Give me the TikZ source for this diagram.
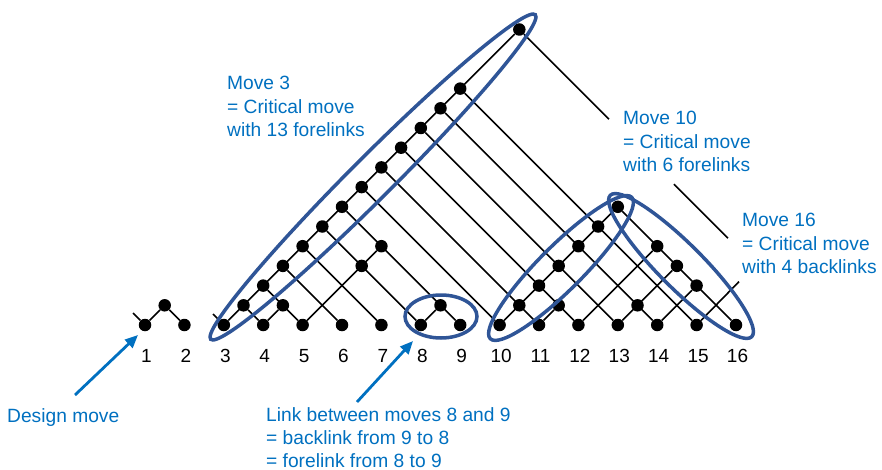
\documentclass[tikz,border=0pt]{standalone}
\usepackage{fontspec}
\setmainfont{Liberation Sans}
\usetikzlibrary{arrows.meta}
\definecolor{ellblue}{HTML}{2F5597}
\definecolor{txtblue}{HTML}{0070C0}
\tikzset{
 dot/.style={circle, fill=black, inner sep=0pt, minimum size=12.5pt},
 lk/.style={line width=1.6pt, black},
 ell/.style={draw=ellblue, line width=3.5pt},
 lbl/.style={text=txtblue, font=\fontsize{19.2}{23.3}\selectfont, align=left, inner sep=0pt, anchor=north west},
 num/.style={font=\fontsize{19}{22}\selectfont, inner sep=0pt},
 arr/.style={draw=txtblue, line width=2.8pt, -{Triangle[length=13pt,width=11pt]}}
}
\begin{document}
\begin{tikzpicture}[x=1pt,y=-1pt]
\useasboundingbox (0,0) rectangle (882,470);
% moves
\foreach \i in {1,...,16} {
  \node[dot] (m\i) at ({145+(\i-1)*39.4},325) {};
  \node[num] (n\i) at ({145+(\i-1)*39.4+1.5},356) {\i};
}
% links
\foreach \a/\b in {1/2,3/4,3/5,3/6,3/7,3/8,3/9,3/10,3/11,3/12,3/13,3/14,3/15,3/18,
  4/5,5/8,5/9,8/9,10/11,10/12,10/13,10/14,10/15,10/16,11/12,13/14,12/16,13/16,14/16} {
  \node[dot] (l\a-\b) at ({145+((\a+\b)/2-1)*39.4},{325-(\b-\a)*19.7}) {};
}
% free ends
\coordinate (b1) at (133,313);
\coordinate (b3) at (213,314);
\coordinate (e15) at (739,281.6);
\coordinate (c1) at (609,119.2);
\coordinate (c2) at (674,184.2);
\coordinate (e18) at (728,238.2);
% forelink lines (up-right)
\draw[lk] (m1) -- (l1-2);
\draw[lk] (m3) -- (l3-18);
\draw[lk] (m4) -- (l4-5);
\draw[lk] (m5) -- (l5-9);
\draw[lk] (m8) -- (l8-9);
\draw[lk] (m10) -- (l10-16);
\draw[lk] (m11) -- (l11-12);
\draw[lk] (m12) -- (l12-16);
\draw[lk] (m13) -- (l13-16);
\draw[lk] (m14) -- (l14-16);
\draw[lk] (m15) -- (e15);
% backlink lines (up-left)
\draw[lk] (m1) -- (b1);
\draw[lk] (m3) -- (b3);
\draw[lk] (m2) -- (l1-2);
\draw[lk] (m4) -- (l3-4);
\draw[lk] (m5) -- (l3-5);
\draw[lk] (m6) -- (l3-6);
\draw[lk] (m7) -- (l3-7);
\draw[lk] (m8) -- (l3-8);
\draw[lk] (m9) -- (l3-9);
\draw[lk] (m10) -- (l3-10);
\draw[lk] (m11) -- (l3-11);
\draw[lk] (m12) -- (l3-12);
\draw[lk] (m13) -- (l3-13);
\draw[lk] (m14) -- (l3-14);
\draw[lk] (m15) -- (l3-15);
\draw[lk] (m16) -- (l10-16);
\draw[lk] (l3-18) -- (c1);
\draw[lk] (c2) -- (e18);
% ellipses
\coordinate (E3) at (373,177);
\coordinate (E10) at (561,268);
\coordinate (E16) at (681,266);
\coordinate (E89) at (441,316.5);
\draw[ell, rotate around={45:(E3)}] (E3) ellipse [x radius=229.5pt, y radius=21pt];
\draw[ell, rotate around={45:(E10)}] (E10) ellipse [x radius=100pt, y radius=22pt];
\draw[ell, rotate around={-45:(E16)}] (E16) ellipse [x radius=100pt, y radius=22pt];
\draw[ell] (E89) ellipse [x radius=36pt, y radius=21.5pt];
% labels
\node[lbl] (t3) at (227,76.3) {Move 3\\= Critical move\\with 13 forelinks};
\node[lbl] (t10) at (623,111.3) {Move 10\\= Critical move\\with 6 forelinks};
\node[lbl] (t16) at (742,213.3) {Move 16\\= Critical move\\with 4 backlinks};
\node[lbl] (td) at (7,408.3) {Design move};
\node[lbl, font=\fontsize{19.2}{22.8}\selectfont] (tl) at (266,407.3) {Link between moves 8 and 9\\= backlink from 9 to 8\\= forelink from 8 to 9};
% arrows
\coordinate (a1s) at (75,395);
\coordinate (a1e) at (138,335);
\coordinate (a2s) at (357,402);
\coordinate (a2e) at (413,341);
\draw[arr] (a1s) -- (a1e);
\draw[arr] (a2s) -- (a2e);
\end{tikzpicture}
\end{document}
